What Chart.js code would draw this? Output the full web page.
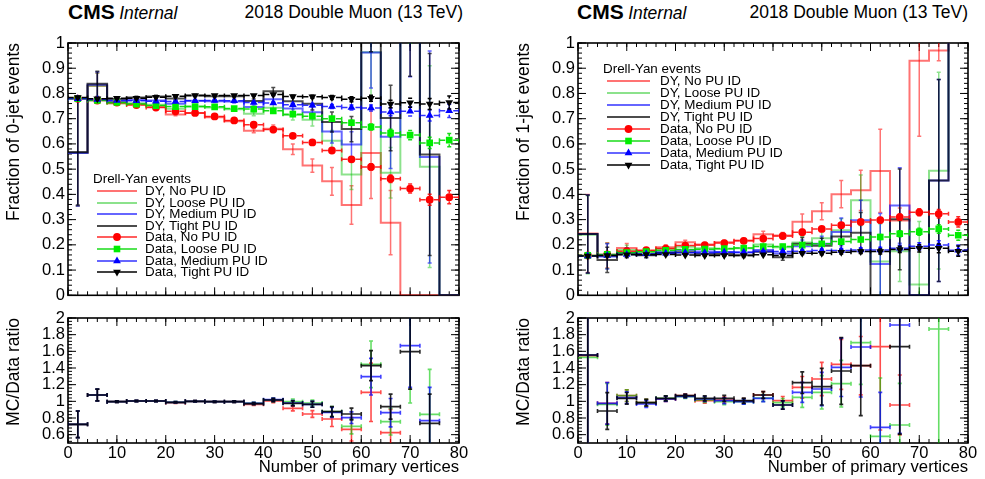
<!DOCTYPE html>
<html><head><meta charset="utf-8">
<script src="https://cdn.jsdelivr.net/npm/chart.js@4/dist/chart.umd.min.js"></script>
<style>
html,body{margin:0;padding:0;background:#fff}
body{width:985px;height:479px;position:relative;overflow:hidden;font-family:"Liberation Sans",Arial,Helvetica,sans-serif;color:#000}
canvas{position:absolute}
.t{position:absolute;white-space:nowrap;line-height:21px}
.lg{position:absolute;white-space:nowrap;line-height:16px}
svg{position:absolute;overflow:visible}
</style></head><body>
<canvas id="cTL" width="475" height="270" style="left:0;top:30px"></canvas>
<canvas id="cBL" width="475" height="174" style="left:0;top:305px"></canvas>
<canvas id="cTR" width="475" height="270" style="left:510px;top:30px"></canvas>
<canvas id="cBR" width="475" height="174" style="left:510px;top:305px"></canvas>
<div class="t" style="left:68px;top:1px"><b style="font-size:21px">CMS</b> <i style="font-size:17.5px">Internal</i></div>
<div class="t" style="right:522px;top:2px;font-size:17.5px">2018 Double Muon (13 TeV)</div>
<div class="t" style="left:577px;top:1px"><b style="font-size:21px">CMS</b> <i style="font-size:17.5px">Internal</i></div>
<div class="t" style="right:17px;top:2px;font-size:17.5px">2018 Double Muon (13 TeV)</div>
<script>
// ---------- categories / ticks ----------
const binEdges   = [0,4,8,12,16,20,24,28,32,36,40,44,48,52,56,60,64,68,72,76,80];
const binCenters = [2,6,10,14,18,22,26,30,34,38,42,46,50,54,58,62,66,70,74,78];
const binHalfWidth = 2;
const xTickValues = [0,10,20,30,40,50,60,70,80];
const xTickLabels = ['0','10','20','30','40','50','60','70','80'];
const fracTickValues = [0,0.1,0.2,0.3,0.4,0.5,0.6,0.7,0.8,0.9,1];
const fracTickLabels = ['0','0.1','0.2','0.3','0.4','0.5','0.6','0.7','0.8','0.9','1'];
const ratioTickValues = [0.6,0.8,1,1.2,1.4,1.6,1.8,2];
const ratioTickLabels = ['0.6','0.8','1','1.2','1.4','1.6','1.8','2'];
const legendHeader = 'Drell-Yan events';
const legendLabels = ['DY, No PU ID','DY, Loose PU ID','DY, Medium PU ID','DY, Tight PU ID',
                      'Data, No PU ID','Data, Loose PU ID','Data, Medium PU ID','Data, Tight PU ID'];

// ---------- 0-jet fraction (left) ----------
const zeroJetDataNo     = [0.779,0.772,0.764,0.754,0.744,0.729,0.723,0.709,0.693,0.676,0.657,0.632,0.606,0.574,0.539,0.509,0.462,0.423,0.379,0.389];
const zeroJetDataLoose  = [0.779,0.772,0.764,0.758,0.752,0.748,0.748,0.747,0.740,0.738,0.731,0.718,0.710,0.700,0.684,0.667,0.643,0.635,0.604,0.615];
const zeroJetDataMedium = [0.779,0.776,0.772,0.771,0.769,0.768,0.771,0.772,0.771,0.764,0.762,0.755,0.753,0.748,0.744,0.742,0.727,0.729,0.713,0.731];
const zeroJetDataTight  = [0.784,0.779,0.781,0.781,0.785,0.789,0.792,0.792,0.792,0.792,0.796,0.788,0.787,0.784,0.777,0.781,0.758,0.763,0.758,0.764];
const zeroJetDataErr    = [0.004,0.003,0.002,0.002,0.002,0.002,0.002,0.002,0.003,0.003,0.004,0.005,0.006,0.008,0.010,0.012,0.015,0.018,0.022,0.026];

const zeroJetDYNo     = [0.564,0.831,0.761,0.757,0.747,0.717,0.723,0.706,0.690,0.652,0.660,0.579,0.514,0.452,0.358,0.564,0.288,0,0,0];
const zeroJetDYLoose  = [0.564,0.831,0.761,0.761,0.755,0.739,0.748,0.744,0.737,0.720,0.743,0.715,0.696,0.613,0.479,0.963,0.486,1.35,0.510,0];
const zeroJetDYMedium = [0.564,0.835,0.769,0.774,0.772,0.759,0.771,0.769,0.768,0.746,0.777,0.740,0.726,0.649,0.598,0.962,0.628,1.216,0.548,0];
const zeroJetDYTight  = [0.568,0.838,0.778,0.784,0.788,0.780,0.792,0.789,0.789,0.770,0.809,0.769,0.759,0.687,0.659,1.115,0.703,1.218,0.558,0];
const zeroJetDYErrNo     = [0.21,0.05,0.008,0.005,0.005,0.005,0.005,0.005,0.006,0.008,0.015,0.021,0.026,0.055,0.076,0.18,0.127,0,0,0];
const zeroJetDYErrLoose  = [0.21,0.05,0.008,0.005,0.005,0.005,0.005,0.005,0.006,0.008,0.015,0.02,0.025,0.04,0.06,0.18,0.10,0.35,0.40,0];
const zeroJetDYErrMedium = [0.21,0.05,0.008,0.005,0.005,0.005,0.005,0.005,0.006,0.008,0.015,0.02,0.025,0.045,0.05,0.14,0.125,0.35,0.42,0];
const zeroJetDYErrTight  = [0.21,0.05,0.008,0.005,0.005,0.005,0.005,0.005,0.006,0.008,0.015,0.02,0.025,0.04,0.05,0.15,0.13,0.35,0.40,0];

const zeroJetRatioNo     = [0.724,1.076,0.996,1.004,1.004,0.984,1.0,0.996,0.996,0.964,1.004,0.916,0.848,0.788,0.664,1.108,0.624,null,null,null];
const zeroJetRatioLoose  = [0.724,1.076,0.996,1.004,1.004,0.988,1.0,0.996,0.996,0.976,1.016,0.996,0.980,0.876,0.700,1.444,0.756,2.13,0.844,null];
const zeroJetRatioMedium = [0.724,1.076,0.996,1.004,1.004,0.988,1.0,0.996,0.996,0.976,1.020,0.980,0.964,0.868,0.804,1.296,0.864,1.668,0.768,null];
const zeroJetRatioTight  = [0.724,1.076,0.996,1.004,1.004,0.988,1.0,0.996,0.996,0.972,1.016,0.976,0.964,0.876,0.848,1.428,0.936,1.596,0.736,null];
const zeroJetRatioErrNo     = [0.16,0.07,0.01,0.008,0.008,0.008,0.008,0.008,0.01,0.012,0.02,0.03,0.04,0.09,0.14,0.35,0.28,0,0,0];
const zeroJetRatioErrLoose  = [0.16,0.07,0.01,0.008,0.008,0.008,0.008,0.008,0.01,0.012,0.02,0.03,0.035,0.06,0.09,0.28,0.16,1.15,0.54,0];
const zeroJetRatioErrMedium = [0.16,0.07,0.01,0.008,0.008,0.008,0.008,0.008,0.01,0.012,0.02,0.03,0.035,0.06,0.07,0.22,0.17,0.5,0.40,0];
const zeroJetRatioErrTight  = [0.16,0.07,0.01,0.008,0.008,0.008,0.008,0.008,0.01,0.012,0.02,0.03,0.035,0.06,0.07,0.18,0.15,0.45,0.35,0];

// ---------- 1-jet fraction (right) ----------
const oneJetDataNo     = [0.158,0.162,0.175,0.179,0.185,0.197,0.199,0.207,0.216,0.225,0.235,0.250,0.263,0.278,0.291,0.298,0.310,0.329,0.323,0.291];
const oneJetDataLoose  = [0.158,0.162,0.169,0.173,0.178,0.182,0.183,0.185,0.187,0.193,0.193,0.199,0.204,0.213,0.221,0.231,0.244,0.252,0.263,0.238];
const oneJetDataMedium = [0.156,0.158,0.162,0.165,0.167,0.169,0.169,0.171,0.171,0.174,0.174,0.175,0.178,0.178,0.180,0.180,0.186,0.194,0.199,0.179];
const oneJetDataTight  = [0.156,0.158,0.161,0.162,0.162,0.160,0.158,0.158,0.158,0.161,0.158,0.167,0.167,0.171,0.174,0.174,0.182,0.186,0.186,0.175];
const oneJetDataErr    = [0.004,0.003,0.002,0.002,0.002,0.002,0.002,0.002,0.003,0.003,0.004,0.005,0.006,0.007,0.008,0.010,0.012,0.014,0.017,0.020];

const oneJetDYNo     = [0.245,0.158,0.187,0.176,0.190,0.210,0.201,0.210,0.217,0.242,0.237,0.292,0.333,0.401,0.416,0.493,0.296,0.930,0.970,1.1];
const oneJetDYLoose  = [0.240,0.156,0.180,0.170,0.184,0.192,0.186,0.184,0.186,0.201,0.190,0.209,0.226,0.258,0.377,0.134,0.175,0.043,0.494,1.1];
const oneJetDYMedium = [0.243,0.154,0.169,0.160,0.172,0.179,0.174,0.172,0.170,0.180,0.166,0.194,0.204,0.251,0.297,0.124,0.356,0,0.455,1.1];
const oneJetDYTight  = [0.243,0.140,0.167,0.159,0.168,0.171,0.164,0.164,0.159,0.173,0.151,0.204,0.196,0.233,0.248,0,0.301,0,0.455,1.1];
const oneJetDYErrNo     = [0.155,0.05,0.018,0.01,0.01,0.008,0.008,0.008,0.009,0.012,0.012,0.03,0.034,0.054,0.08,0.165,0.05,0.3,0.04,0];
const oneJetDYErrLoose  = [0.155,0.05,0.018,0.01,0.01,0.008,0.008,0.008,0.009,0.012,0.012,0.025,0.03,0.045,0.10,0.15,0.12,0.25,0.39,0];
const oneJetDYErrMedium = [0.155,0.05,0.018,0.01,0.01,0.008,0.008,0.008,0.009,0.012,0.012,0.025,0.03,0.055,0.08,0.20,0.15,0,0.40,0];
const oneJetDYErrTight  = [0.155,0.05,0.018,0.01,0.01,0.008,0.008,0.008,0.009,0.012,0.012,0.025,0.03,0.05,0.08,0,0.20,0,0.40,0];

const oneJetRatioNo     = [1.548,0.976,1.068,0.984,1.028,1.068,1.008,1.016,1.004,1.076,1.008,1.168,1.268,1.444,1.428,1.656,0.956,null,null,null];
const oneJetRatioLoose  = [1.528,0.964,1.068,0.984,1.036,1.056,1.016,0.996,0.996,1.040,0.984,1.048,1.108,1.212,1.704,0.580,0.716,null,1.868,null];
const oneJetRatioMedium = [1.556,0.976,1.044,0.968,1.030,1.060,1.028,1.008,0.996,1.036,0.956,1.108,1.148,1.408,1.652,0.688,1.916,null,null,null];
const oneJetRatioTight  = [1.556,0.884,1.036,0.984,1.036,1.068,1.036,1.036,1.008,1.076,0.956,1.224,1.176,1.364,1.428,null,1.656,null,null,null];
const oneJetRatioErrNo     = [2,0.25,0.07,0.04,0.03,0.02,0.03,0.035,0.03,0.04,0.05,0.13,0.2,0.3,0.35,1.0,0.36,0,0,0];
const oneJetRatioErrLoose  = [2,0.25,0.07,0.04,0.03,0.02,0.03,0.035,0.03,0.04,0.05,0.12,0.2,0.28,0.5,0.7,0.5,0,1.5,0];
const oneJetRatioErrMedium = [2,0.25,0.07,0.04,0.03,0.02,0.03,0.035,0.03,0.04,0.05,0.12,0.2,0.35,0.6,0.42,1.3,0,0,0];
const oneJetRatioErrTight  = [2,0.22,0.07,0.04,0.03,0.02,0.03,0.035,0.03,0.04,0.05,0.13,0.22,0.4,0.6,0,1.05,0,0,0];

// ---------- styles ----------
const FONT = '"Liberation Sans", Arial, Helvetica, sans-serif';
Chart.defaults.font.family = FONT;
Chart.defaults.color = '#000';
const STYLE = {
  dyLine:   ['rgba(255,0,0,0.55)','rgba(0,190,0,0.45)','rgba(0,0,255,0.6)','rgba(0,0,0,0.7)'],
  dataFill: ['#ff0000','#00ee00','#0000ff','#000000'],
  dataBar:  ['rgba(255,0,0,0.85)','rgba(0,215,0,0.9)','rgba(0,0,255,0.8)','#000000'],
  ratioBar: ['rgba(255,0,0,0.7)','rgba(0,200,0,0.6)','rgba(0,0,255,0.75)','rgba(0,0,0,0.85)'],
  marker:   ['circle','rect','triangle','triangle'],
  markerRot:[0,0,0,180],
  markerR:  [3.9,4.7,4.5,4.5]
};

function stepPoints(vals){
  const pts = vals.map((v,i)=>({x:binEdges[i], y:v}));
  pts.push({x:binEdges[binEdges.length-1], y:vals[vals.length-1]});
  return pts;
}
function fractionDatasets(dy, dyErr, data, dataErr){
  const sets = [];
  for (let k=0;k<4;k++) sets.push({
    data: stepPoints(dy[k]), stepped:'before', borderColor:STYLE.dyLine[k], borderWidth:2,
    pointRadius:0, fill:false, order:20-k,
    bars:{values:dy[k], err:dyErr[k], color:STYLE.dyLine[k], width:1.5, horiz:false, gap:0, cap:2}
  });
  for (let k=0;k<4;k++) sets.push({
    data: binCenters.map((c,i)=>({x:c, y:data[k][i]})), showLine:false,
    pointStyle:STYLE.marker[k], pointRotation:STYLE.markerRot[k], pointRadius:STYLE.markerR[k],
    pointBackgroundColor:STYLE.dataFill[k], pointBorderColor:STYLE.dataFill[k], pointBorderWidth:0, order:10-k,
    bars:{values:data[k], err:dataErr, color:STYLE.dataBar[k], width:1.5, horiz:true, gap:4, cap:2}
  });
  return sets;
}
function ratioDatasets(r, rErr){
  return r.map((vals,k)=>({
    data: binCenters.map((c,i)=>({x:c, y:vals[i]})), showLine:false, pointRadius:0, order:10-k,
    bars:{values:vals, err:rErr[k], color:STYLE.ratioBar[k], width:1.6, horiz:true, gap:0, cap:2}
  }));
}

function drawBars(chart, b){
  const {ctx, chartArea:a} = chart; const xs = chart.scales.x, ys = chart.scales.y;
  ctx.save();
  ctx.beginPath(); ctx.rect(a.left, a.top, a.right-a.left, a.bottom-a.top); ctx.clip();
  ctx.strokeStyle = b.color; ctx.lineWidth = b.width; ctx.lineCap = 'butt';
  ctx.beginPath();
  binCenters.forEach((c,i)=>{
    const v = b.values[i]; if (v === null || v === undefined) return;
    const px = xs.getPixelForValue(c), py = ys.getPixelForValue(v);
    if (b.horiz){
      const x0 = xs.getPixelForValue(c-binHalfWidth), x1 = xs.getPixelForValue(c+binHalfWidth);
      ctx.moveTo(x0,py); ctx.lineTo(px-b.gap,py);
      ctx.moveTo(px+b.gap,py); ctx.lineTo(x1,py);
      if (b.cap){ ctx.moveTo(x0,py-b.cap); ctx.lineTo(x0,py+b.cap); ctx.moveTo(x1,py-b.cap); ctx.lineTo(x1,py+b.cap); }
    }
    const e = b.err[i];
    if (e > 0){
      const yt = ys.getPixelForValue(v+e), yb = ys.getPixelForValue(v-e);
      if (py-b.gap > yt){ ctx.moveTo(px,py-b.gap); ctx.lineTo(px,yt); }
      if (py+b.gap < yb){ ctx.moveTo(px,py+b.gap); ctx.lineTo(px,yb); }
      if (b.cap){ ctx.moveTo(px-b.cap,yt); ctx.lineTo(px+b.cap,yt); ctx.moveTo(px-b.cap,yb); ctx.lineTo(px+b.cap,yb); }
    }
  });
  ctx.stroke(); ctx.restore();
}
function minorList(major, step, min, max){
  const out = [];
  for (let v=major[0]; v>=min-1e-9; v-=step) out.push(v);
  for (let v=major[0]+step; v<=max+1e-9; v+=step) out.push(v);
  return out;
}
const rootFrame = {
  id:'rootFrame',
  beforeDatasetsDraw(chart, args, o){
    if (!o || !o.xMajor) return;
    const {ctx, chartArea:a} = chart; const xs = chart.scales.x, ys = chart.scales.y;
    ctx.save(); ctx.strokeStyle='#000'; ctx.lineWidth=1; ctx.beginPath();
    const xt = (v,len)=>{ const p=xs.getPixelForValue(v); ctx.moveTo(p,a.bottom); ctx.lineTo(p,a.bottom-len); ctx.moveTo(p,a.top); ctx.lineTo(p,a.top+len); };
    const yt = (v,len)=>{ const p=ys.getPixelForValue(v); ctx.moveTo(a.left,p); ctx.lineTo(a.left+len,p); ctx.moveTo(a.right,p); ctx.lineTo(a.right-len,p); };
    o.xMajor.forEach(v=>xt(v,o.majorLen));
    minorList(o.xMajor,o.xMinorStep,xs.min,xs.max).forEach(v=>xt(v,o.minorLen));
    o.yMajor.forEach(v=>yt(v,o.majorLen));
    minorList(o.yMajor,o.yMinorStep,ys.min,ys.max).forEach(v=>yt(v,o.minorLen));
    ctx.stroke();
    ctx.lineWidth=1.6; ctx.strokeRect(a.left,a.top,a.right-a.left,a.bottom-a.top);
    ctx.restore();
  },
  beforeDatasetDraw(chart, args){
    const ds = chart.data.datasets[args.index];
    if (ds && ds.bars) drawBars(chart, ds.bars);
  }
};
Chart.register(rootFrame);

function panelOptions(isTop, yTitle, padRight){
  const yVals = isTop ? fracTickValues : ratioTickValues;
  const yLabs = isTop ? fracTickLabels : ratioTickLabels;
  return {
    responsive:false, animation:false, events:[],
    layout:{padding:{top:13, right:padRight, bottom:isTop?4:0, left:0}},
    plugins:{legend:{display:false}, tooltip:{enabled:false},
      rootFrame:{xMajor:xTickValues, xMinorStep:2, yMajor:yVals, yMinorStep:isTop?0.02:0.04, majorLen:8, minorLen:4}},
    scales:{
      x:{type:'linear', min:0, max:80, display:!isTop,
        afterFit(s){ if(!isTop) s.height=36; s.paddingLeft=0; s.paddingRight=0; },
        afterBuildTicks(s){ s.ticks = xTickValues.map(v=>({value:v})); },
        ticks:{autoSkip:false, maxRotation:0, minRotation:0, padding:1, font:{size:16.5}, color:'#000',
               callback:(v,i)=>xTickLabels[i]},
        grid:{display:false, drawTicks:false}, border:{display:false},
        title:{display:true, text:'Number of primary vertices', align:'end', color:'#000',
               font:{size:16.7}, padding:{top:0,bottom:2}}},
      y:{type:'linear', min:isTop?0:0.5, max:isTop?1:2,
        afterFit(s){ s.width=68; s.paddingTop=0; s.paddingBottom=0; },
        afterBuildTicks(s){ s.ticks = yVals.map(v=>({value:v})); },
        ticks:{autoSkip:false, padding:3, font:{size:16.5}, color:'#000', callback:(v,i)=>yLabs[i]},
        grid:{display:false, drawTicks:false}, border:{display:false},
        title:{display:true, text:yTitle, align:'end', color:'#000', font:{size:17.5}, padding:{top:4,bottom:0}}}
    }
  };
}

new Chart(document.getElementById('cTL'), {type:'line',
  data:{datasets:fractionDatasets(
    [zeroJetDYNo,zeroJetDYLoose,zeroJetDYMedium,zeroJetDYTight],
    [zeroJetDYErrNo,zeroJetDYErrLoose,zeroJetDYErrMedium,zeroJetDYErrTight],
    [zeroJetDataNo,zeroJetDataLoose,zeroJetDataMedium,zeroJetDataTight], zeroJetDataErr)},
  options:panelOptions(true,'Fraction of 0-jet events',16)});
new Chart(document.getElementById('cBL'), {type:'line',
  data:{datasets:ratioDatasets(
    [zeroJetRatioNo,zeroJetRatioLoose,zeroJetRatioMedium,zeroJetRatioTight],
    [zeroJetRatioErrNo,zeroJetRatioErrLoose,zeroJetRatioErrMedium,zeroJetRatioErrTight])},
  options:panelOptions(false,'MC/Data ratio',16)});
new Chart(document.getElementById('cTR'), {type:'line',
  data:{datasets:fractionDatasets(
    [oneJetDYNo,oneJetDYLoose,oneJetDYMedium,oneJetDYTight],
    [oneJetDYErrNo,oneJetDYErrLoose,oneJetDYErrMedium,oneJetDYErrTight],
    [oneJetDataNo,oneJetDataLoose,oneJetDataMedium,oneJetDataTight], oneJetDataErr)},
  options:panelOptions(true,'Fraction of 1-jet events',17)});
new Chart(document.getElementById('cBR'), {type:'line',
  data:{datasets:ratioDatasets(
    [oneJetRatioNo,oneJetRatioLoose,oneJetRatioMedium,oneJetRatioTight],
    [oneJetRatioErrNo,oneJetRatioErrLoose,oneJetRatioErrMedium,oneJetRatioErrTight])},
  options:panelOptions(false,'MC/Data ratio',17)});

// ---------- legends (HTML) ----------
function markerSVG(k, cx, cy){
  const f = STYLE.dataFill[k];
  if (k===0) return `<circle cx="${cx}" cy="${cy}" r="3.9" fill="${f}"/>`;
  if (k===1) return `<rect x="${cx-3.3}" y="${cy-3.3}" width="6.6" height="6.6" fill="${f}"/>`;
  if (k===2) return `<polygon points="${cx},${cy-4.5} ${cx+3.9},${cy+2.25} ${cx-3.9},${cy+2.25}" fill="${f}"/>`;
  return `<polygon points="${cx},${cy+4.5} ${cx+3.9},${cy-2.25} ${cx-3.9},${cy-2.25}" fill="${f}"/>`;
}
function addLegend(L){
  const h = document.createElement('div');
  h.className='lg'; h.style.left=L.hx+'px'; h.style.top=(L.hy-8)+'px'; h.style.fontSize=L.size+'px';
  h.textContent = legendHeader; document.body.appendChild(h);
  legendLabels.forEach((lab,i)=>{
    const y = L.y0 + i*L.dy, k = i%4, w = L.s1-L.s0;
    const isData = i>=4;
    const col = isData ? STYLE.dataBar[k] : STYLE.dyLine[k];
    const svg = `<svg width="${w}" height="12" style="left:${L.s0}px;top:${y-6}px" xmlns="http://www.w3.org/2000/svg">
      <line x1="0" y1="6" x2="${w}" y2="6" stroke="${col}" stroke-width="${isData?1.6:2}"/>${isData?markerSVG(k,w/2,6):''}</svg>`;
    document.body.insertAdjacentHTML('beforeend', svg);
    const t = document.createElement('div');
    t.className='lg'; t.style.left=L.tx+'px'; t.style.top=(y-8)+'px'; t.style.fontSize=L.size+'px';
    t.textContent = lab; document.body.appendChild(t);
  });
}
addLegend({hx:93, hy:179, y0:191, dy:11.6, s0:97, s1:137, tx:145, size:13.4});
addLegend({hx:603, hy:68.5, y0:81, dy:12, s0:607, s1:650, tx:660, size:13.4});
</script>
</body></html>
